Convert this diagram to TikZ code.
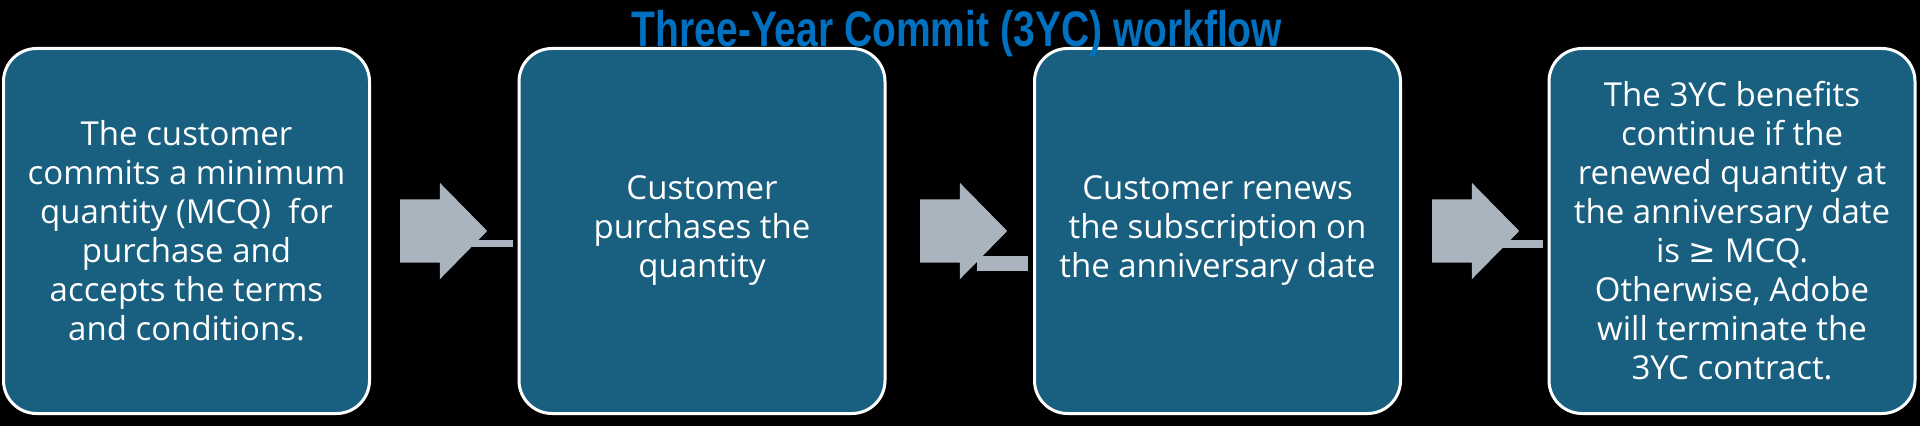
\documentclass[tikz,border=0pt]{standalone}
\usepackage{fontspec}
\setmainfont{Open Sans}
\newfontfamily\ttlfont{Liberation Sans}
\newfontfamily\symfont{DejaVu Sans}
\usetikzlibrary{shapes.arrows,positioning}
\definecolor{boxblue}{HTML}{185F80}
\definecolor{arrgray}{HTML}{AAB4BE}
\definecolor{ttlblue}{HTML}{0070C0}
\tikzset{
  stepbox/.style={rounded corners=33pt,fill=boxblue,draw=white,line width=3pt,
    minimum width=366pt,minimum height=365pt,inner sep=0pt,
    text=white,align=center,font=\fontsize{33}{39}\selectfont},
  blk/.style={single arrow,fill=arrgray,inner xsep=0pt,inner ysep=31.5pt,
    minimum height=87pt,single arrow head extend=16.5pt,single arrow tip angle=91},
  lnk/.style={draw=arrgray,shorten >=5pt},
  ttl/.style={text=ttlblue,inner sep=0pt,anchor=base,
    font=\ttlfont\bfseries\fontsize{50}{50}\selectfont},
}
\begin{document}
\begin{tikzpicture}[x=1pt,y=1pt]
\fill[black] (0,0) rectangle (1920,426);
\useasboundingbox (0,0) rectangle (1920,426);
% the four steps of the commitment
\foreach \i/\x/\txt in {1/186.5/{The customer\\commits a minimum\\quantity (MCQ)\ \ for\\purchase and\\accepts the terms\\and conditions.},
                        2/702/{Customer\\purchases the\\quantity},
                        3/1217.5/{Customer renews\\the subscription on\\the anniversary date},
                        4/1732/{The 3YC benefits\\continue if the\\renewed quantity at\\the anniversary date\\is {\symfont ≥} MCQ.\\Otherwise, Adobe\\will terminate the\\3YC contract.}}{
  \node[stepbox] (b\i) at (\x,195) {\txt};
}
% block arrows, each with its stub into the next step
\foreach \i/\j/\gap/\dy/\lw in {1/2/29pt/13pt/7pt, 2/3/33.5pt/32.5pt/15pt, 3/4/30pt/13pt/8pt}{
  \node[blk,right=\gap of b\i] (ar\i) {};
  \draw[lnk,line width=\lw] ([xshift=-30pt,yshift=-\dy]ar\i.tip) coordinate (s\i) -- (s\i -| b\j.west);
}
\node[ttl] (title) at (957,379) {\scalebox{0.78}[1]{Three-Year Commit (3YC) workflow}};
\end{tikzpicture}
\end{document}
